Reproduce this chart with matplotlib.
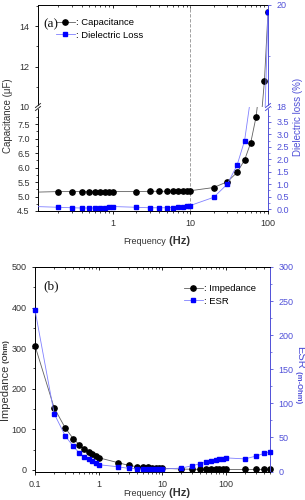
import numpy as np
import matplotlib
matplotlib.use("Agg")
import matplotlib.pyplot as plt
from matplotlib.lines import Line2D
from matplotlib.ticker import FuncFormatter, NullFormatter, FixedLocator

plt.rcParams['font.family'] = ['Liberation Sans', 'DejaVu Sans']

#---- data (a): capacitance / dielectric loss ----
freq_a = [0.1, 0.2, 0.3, 0.4, 0.5, 0.6, 0.7, 0.8, 0.9, 1,
          2, 3, 4, 5, 6, 7, 8, 9, 10,
          20, 30, 40, 50, 60, 70, 80, 90, 100]
capacitance = [5.15, 5.17, 5.17, 5.17, 5.17, 5.17, 5.17, 5.17, 5.17, 5.17,
               5.17, 5.18, 5.18, 5.18, 5.18, 5.19, 5.19, 5.19, 5.20,
               5.31, 5.51, 5.83, 6.26, 6.86, 7.73, 9.0, 11.3, 14.7]
diel_loss = [0.10, 0.07, 0.05, 0.04, 0.04, 0.04, 0.05, 0.06, 0.07, 0.10,
             0.07, 0.05, 0.05, 0.05, 0.06, 0.08, 0.10, 0.12, 0.14,
             0.47, 1.00, 1.76, 2.75, 4.5, 7.0, 11.0, 17.5, 19.87]

#---- data (b): impedance / ESR ----
freq_b = [0.1, 0.2, 0.3, 0.4, 0.5, 0.6, 0.7, 0.8, 0.9, 1,
          2, 3, 4, 5, 6, 7, 8, 9, 10,
          20, 30, 40, 50, 60, 70, 80, 90, 100,
          200, 300, 400, 500]
impedance = [306, 153, 103, 77, 62, 51, 44, 39, 34, 30,
             18, 11, 8, 7, 6, 5.5, 5, 4.5, 4,
             2, 1.5, 1.2, 1, 1, 1, 1, 1, 1,
             1, 1, 1, 1]
esr = [237, 85, 52, 37, 27, 21, 18, 15, 13, 10,
       7, 4.5, 4, 3.5, 3.5, 3.5, 3.5, 3.5, 3.5,
       5, 8.5, 11.5, 14, 15.5, 16.5, 18, 19, 20,
       18.5, 22.5, 26.5, 29]

BLK = '#000000'
BLK_LINE = '#606060'
BLU = '#0000ff'
BLU_LINE = '#8080ff'
AXB = '#5050d8'
TXT = '#333333'
TS = 6.5

fmt = FuncFormatter(lambda v, p: f"{v:g}")

fig = plt.figure(figsize=(3.05, 5.0), dpi=100)
W, H = 305.0, 500.0

def box(l, t, r, b):
    return [l / W, 1 - b / H, (r - l) / W, (b - t) / H]

#---- panel (a): broken axis ----
axL = fig.add_axes(box(38, 107, 268, 211))
axU = fig.add_axes(box(38, 5, 268, 107), sharex=axL)
axLr = axL.twinx()
axUr = axU.twinx()

for a in (axL, axU):
    a.plot(freq_a, capacitance, '-', color=BLK_LINE, lw=0.6, marker='o', ms=3.8,
           mfc=BLK, mec=BLK, zorder=3)
    a.axvline(10, color='#909090', lw=0.6, dashes=(4, 2))
for a in (axLr, axUr):
    a.plot(freq_a, diel_loss, '-', color=BLU_LINE, lw=0.6, marker='s', ms=3.3,
           mfc=BLU, mec=BLU, zorder=3)

axL.set_xscale('log')
axL.set_xlim(0.11, 100)
axL.set_ylim(4.5, 8.09)
axU.set_ylim(10, 15.04)
axLr.set_ylim(-0.08, 4.1)
axUr.set_ylim(18, 20)

axL.yaxis.set_major_locator(FixedLocator([4.5, 5.0, 5.5, 6.0, 6.5, 7.0, 7.5]))
axL.yaxis.set_minor_locator(FixedLocator([4.75, 5.25, 5.75, 6.25, 6.75, 7.25, 7.75]))
axL.yaxis.set_major_formatter(FuncFormatter(lambda v, p: f"{v:.1f}"))
axU.yaxis.set_major_locator(FixedLocator([10, 12, 14]))
axU.yaxis.set_minor_locator(FixedLocator([11, 13, 15]))
axLr.yaxis.set_major_locator(FixedLocator([0, 0.5, 1.0, 1.5, 2.0, 2.5, 3.0, 3.5]))
axLr.yaxis.set_minor_locator(FixedLocator([0.25, 0.75, 1.25, 1.75, 2.25, 2.75, 3.25, 3.75]))
axLr.yaxis.set_major_formatter(FuncFormatter(lambda v, p: f"{v:.1f}"))
axUr.yaxis.set_major_locator(FixedLocator([18, 20]))
axUr.yaxis.set_minor_locator(FixedLocator([19]))

axL.xaxis.set_major_formatter(fmt)
axL.xaxis.set_minor_formatter(NullFormatter())

for a in (axL, axU):
    a.spines['right'].set_visible(False)
for a in (axLr, axUr):
    a.spines['left'].set_visible(False)
    a.spines['right'].set_color(AXB)
axL.spines['top'].set_visible(False)
axLr.spines['top'].set_visible(False)
axU.spines['bottom'].set_visible(False)
axUr.spines['bottom'].set_visible(False)
axUr.spines['top'].set_visible(False)

axL.tick_params(axis='x', which='both', bottom=True, top=False, direction='out',
                labelsize=TS, labelcolor=TXT)
axU.tick_params(axis='x', which='both', bottom=False, top=True, direction='in',
                labelbottom=False)
for a in (axL, axU):
    a.tick_params(axis='y', which='both', direction='out', labelsize=TS, labelcolor=TXT)
    a.tick_params(which='major', length=2.5, width=0.6)
    a.tick_params(which='minor', length=1.5, width=0.5)
for a in (axLr, axUr):
    a.tick_params(axis='y', which='both', direction='out', colors=AXB, labelsize=TS)
    a.tick_params(which='major', length=2.5, width=0.6)
    a.tick_params(which='minor', length=1.5, width=0.5)
for a in (axL, axU, axLr, axUr):
    for s in a.spines.values():
        s.set_linewidth(0.7)

# break marks on the spines
for xpx, col in ((38, '#333333'), (268, AXB)):
    x0 = xpx / W
    y0 = 1 - 107 / H
    fig.patches.append(plt.Rectangle((x0 - 2 / W, y0 - 1.2 / H), 4 / W, 2.4 / H,
                                     transform=fig.transFigure, color='white', zorder=10))
    for dy in (-1.5, 1.5):
        fig.lines.append(Line2D([x0 - 2.5 / W, x0 + 2.5 / W],
                                [y0 + (dy - 2) / H, y0 + (dy + 2) / H],
                                transform=fig.transFigure, color=col, lw=0.7, zorder=11))

ha = [Line2D([], [], color=BLK_LINE, lw=0.6, marker='o', ms=3.8, mfc=BLK, mec=BLK),
      Line2D([], [], color=BLU_LINE, lw=0.6, marker='s', ms=3.3, mfc=BLU, mec=BLU)]
axUr.legend(ha, [': Capacitance', ': Dielectric Loss'], loc='upper left',
            bbox_to_anchor=(56 / W, 1 - 18 / H), bbox_transform=fig.transFigure,
            frameon=False, borderpad=0, borderaxespad=0, handlelength=2.0,
            handletextpad=0.15, labelspacing=0.4, prop={'size': 6.8})
fig.text(43 / W, 1 - 24 / H, '(a)', family='Liberation Serif', fontsize=9.5,
         ha='left', va='center', color='#111111')

fig.text(8 / W, 1 - 116 / H, 'Capacitance (μF)', rotation=90, fontsize=7,
         ha='center', va='center', color=TXT)
fig.text(298 / W, 1 - 117 / H, 'Dielectric loss (%)', rotation=90, fontsize=7,
         ha='center', va='center', color=AXB)

#---- panel (b) ----
ax2 = fig.add_axes(box(35, 267, 270, 471.5))
ax2r = ax2.twinx()
ax2.plot(freq_b, impedance, '-', color=BLK_LINE, lw=0.6, marker='o', ms=3.8,
         mfc=BLK, mec=BLK, clip_on=False, zorder=3)
ax2r.plot(freq_b, esr, '-', color=BLU_LINE, lw=0.6, marker='s', ms=3.3,
          mfc=BLU, mec=BLU, clip_on=False, zorder=3)
ax2.set_xscale('log')
ax2.set_xlim(0.1, 500)
ax2.set_ylim(-4, 500)
ax2r.set_ylim(0, 300)
ax2.yaxis.set_major_locator(FixedLocator([0, 100, 200, 300, 400, 500]))
ax2.yaxis.set_minor_locator(FixedLocator([50, 150, 250, 350, 450]))
ax2r.yaxis.set_major_locator(FixedLocator([0, 50, 100, 150, 200, 250, 300]))
ax2r.yaxis.set_minor_locator(FixedLocator([25, 75, 125, 175, 225, 275]))
ax2.xaxis.set_major_formatter(fmt)
ax2.xaxis.set_minor_formatter(NullFormatter())
ax2.spines['right'].set_visible(False)
ax2r.spines['left'].set_visible(False)
ax2r.spines['right'].set_color(AXB)
ax2.tick_params(axis='both', which='both', direction='out', labelsize=TS, labelcolor=TXT)
ax2.tick_params(which='major', length=2.5, width=0.6)
ax2.tick_params(which='minor', length=1.5, width=0.5)
ax2r.tick_params(axis='y', which='both', direction='out', colors=AXB, labelsize=TS)
ax2r.tick_params(which='major', length=2.5, width=0.6)
ax2r.tick_params(which='minor', length=1.5, width=0.5)
sec = ax2.secondary_xaxis('top')
sec.tick_params(which='both', direction='in')
sec.tick_params(which='major', length=2.5, width=0.6)
sec.tick_params(which='minor', length=1.5, width=0.5)
sec.xaxis.set_major_formatter(NullFormatter())
sec.xaxis.set_minor_formatter(NullFormatter())
for a in (ax2, ax2r, sec):
    for s in a.spines.values():
        s.set_linewidth(0.7)

hb = [Line2D([], [], color=BLK_LINE, lw=0.6, marker='o', ms=3.8, mfc=BLK, mec=BLK),
      Line2D([], [], color=BLU_LINE, lw=0.6, marker='s', ms=3.3, mfc=BLU, mec=BLU)]
ax2r.legend(hb, [': Impedance', ': ESR'], loc='upper left',
            bbox_to_anchor=(184 / W, 1 - 284 / H), bbox_transform=fig.transFigure,
            frameon=False, borderpad=0, borderaxespad=0, handlelength=2.0,
            handletextpad=0.15, labelspacing=0.4, prop={'size': 6.8})
fig.text(43 / W, 1 - 286.5 / H, '(b)', family='Liberation Serif', fontsize=9.5,
         ha='left', va='center', color='#111111')

fig.canvas.draw()
t_imp = fig.text(10 / W, 1 - 420 / H, 'Impedance', rotation=90, fontsize=8,
                 ha='right', va='bottom', color=TXT)
fig.canvas.draw()
ax2.annotate(' (Ohm)', xy=(1, 1), xycoords=t_imp, rotation=90, fontsize=5.5,
             fontweight='bold', ha='right', va='bottom', color=TXT)
t_esr = fig.text(295 / W, 1 - 346 / H, 'ESR', rotation=270, fontsize=8,
                 ha='left', va='top', color=AXB)
fig.canvas.draw()
ax2.annotate(' (m-Ohm)', xy=(0, 0), xycoords=t_esr, rotation=270, fontsize=5.5,
             fontweight='bold', ha='left', va='top', color=AXB)

for ypx in (242, 493):
    t1 = fig.text(166 / W, 1 - ypx / H, 'Frequency', fontsize=6.5, ha='right',
                  va='center', color=TXT)
    fig.canvas.draw()
    ax2.annotate(' (Hz)', xy=(1, 0), xycoords=t1, fontsize=8, fontweight='bold',
                 ha='left', va='bottom', color=TXT)

fig.savefig('out.png', dpi=100)
